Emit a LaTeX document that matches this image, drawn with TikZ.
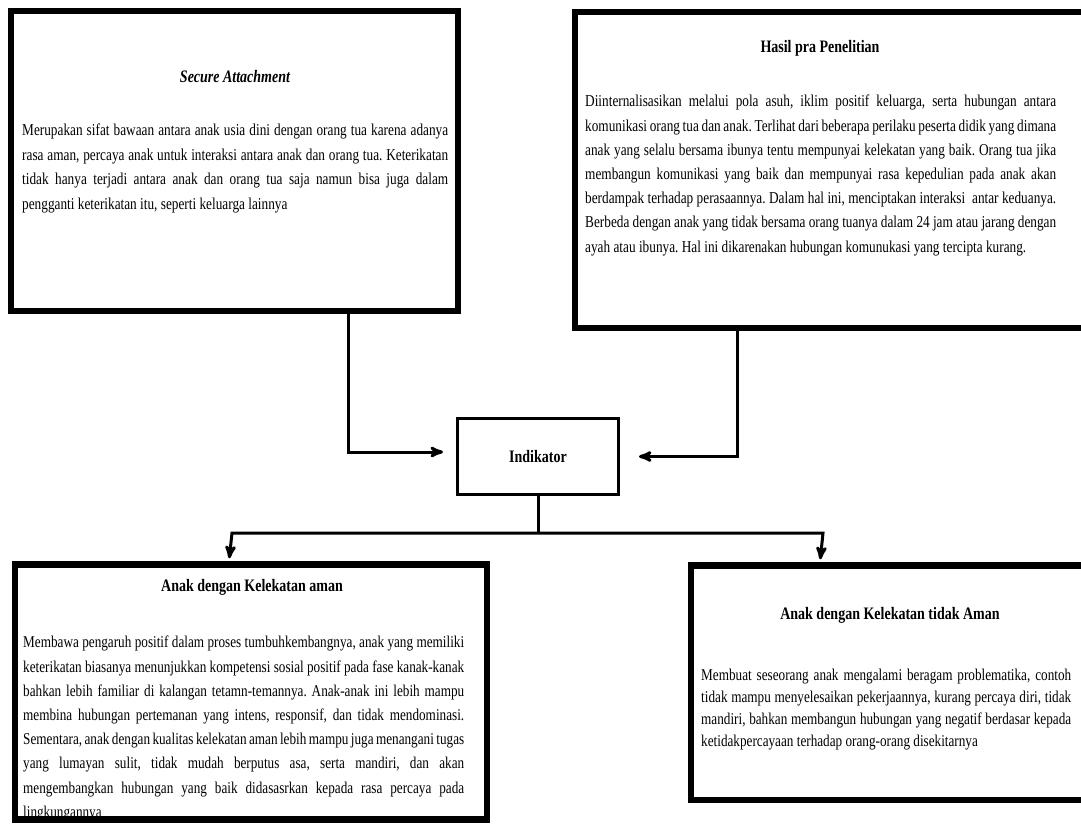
\documentclass[tikz,border=0pt]{standalone}
\usepackage{fontspec}
\setmainfont{Liberation Serif}[FakeStretch=0.8]
\usepackage{tikz}
\usetikzlibrary{positioning}
\usetikzlibrary{shapes,arrows}
\hyphenpenalty=10000
\tolerance=9999
\frenchspacing

\begin{document}
\begin{tikzpicture}[x=1pt,y=-1pt,
  bigbox/.style={draw, rectangle, line width=6.5pt, inner sep=0pt},
  smallbox/.style={draw, rectangle, line width=3pt, inner sep=0pt,
    font=\fontsize{17.5}{20}\selectfont\bfseries},
  head/.style={inner sep=0pt, font=\fontsize{17.5}{20}\selectfont\bfseries},
  para/.style={inner sep=0pt, anchor=north west, align=justify,
    font=\fontsize{16.6}{24.5}\selectfont},
  link/.style={line width=3pt},
  arr/.style={line width=3pt, -stealth'}]
  \clip (0,0) rectangle (1081,826);
  \node(sa) [bigbox, minimum width=447pt, minimum height=300pt] at (234.5,161) {};
  \node(hp) [bigbox, minimum width=520pt, minimum height=316pt] at (835,170) {};
  \node(ka) [bigbox, minimum width=472pt, minimum height=255pt] at (251,692) {};
  \node(kt) [bigbox, minimum width=404pt, minimum height=234.5pt] at (893,682.75) {};
  \node(ind) [smallbox, minimum width=161pt, minimum height=76pt] at (538,456.5) {Indikator};
  \node(sat) [head] at (235,77) {\itshape Secure Attachment};
  \node(hpt) [head] at (820,48) {Hasil pra Penelitian};
  \node(kat) [head] at (252,587) {Anak dengan Kelekatan aman};
  \node(ktt) [head] at (890,615) {Anak dengan Kelekatan tidak Aman};
  \node(sab) [para, text width=426pt] at (22,124) {Merupakan sifat bawaan antara anak usia dini dengan orang tua karena adanya\linebreak rasa aman, percaya anak untuk interaksi antara anak dan orang tua. Keterikatan\linebreak tidak hanya terjadi antara anak dan orang tua saja namun bisa juga dalam\linebreak pengganti keterikatan itu, seperti keluarga lainnya};
  \node(hpb) [para, text width=471pt, font=\fontsize{16.6}{24.2}\selectfont] at (585,95) {Diinternalisasikan melalui pola asuh, iklim positif keluarga, serta hubungan antara\linebreak komunikasi orang tua dan anak. Terlihat dari beberapa perilaku peserta didik yang dimana\linebreak anak yang selalu bersama ibunya tentu mempunyai kelekatan yang baik. Orang tua jika\linebreak membangun komunikasi yang baik dan mempunyai rasa kepedulian pada anak akan\linebreak berdampak terhadap perasaannya. Dalam hal ini, menciptakan interaksi\ \ antar keduanya.\linebreak Berbeda dengan anak yang tidak bersama orang tuanya dalam 24 jam atau jarang dengan\linebreak ayah atau ibunya. Hal ini dikarenakan hubungan komunukasi yang tercipta kurang.};
  \node(kab) [para, text width=441pt, font=\fontsize{16.5}{24.2}\selectfont] at (23,636) {Membawa pengaruh positif dalam proses tumbuhkembangnya, anak yang memiliki\linebreak keterikatan biasanya menunjukkan kompetensi sosial positif pada fase kanak-kanak\linebreak bahkan lebih familiar di kalangan tetamn-temannya. Anak-anak ini lebih mampu\linebreak membina hubungan pertemanan yang intens, responsif, dan tidak mendominasi.\linebreak Sementara, anak dengan kualitas kelekatan aman lebih mampu juga menangani tugas\linebreak yang lumayan sulit, tidak mudah berputus asa, serta mandiri, dan akan\linebreak mengembangkan hubungan yang baik didasasrkan kepada rasa percaya pada\linebreak lingkungannya};
  \node(ktb) [para, text width=370pt, font=\fontsize{16.5}{22}\selectfont] at (701,669) {Membuat seseorang anak mengalami beragam problematika, contoh\linebreak tidak mampu menyelesaikan pekerjaannya, kurang percaya diri, tidak\linebreak mandiri, bahkan membangun hubungan yang negatif berdasar kepada\linebreak ketidakpercayaan terhadap orang-orang disekitarnya};
  \coordinate(jl) at (232,533);
  \coordinate(jr) at (823,533);
  \draw[arr, shorten >=13pt] ([xshift=113.5pt]sa.south) |- ([yshift=4.5pt]ind.west);
  \draw[arr, shorten >=19pt] ([xshift=-98pt]hp.south) |- (ind.east);
  \draw[link] (ind.south) -- (ind.south |- jl);
  \draw[link, stealth'-stealth', shorten <=3pt, shorten >=3pt] ([xshift=-22pt]ka.north) -- (jl) -- (jr) -- ([xshift=-73pt]kt.north);
\end{tikzpicture}
\end{document}
